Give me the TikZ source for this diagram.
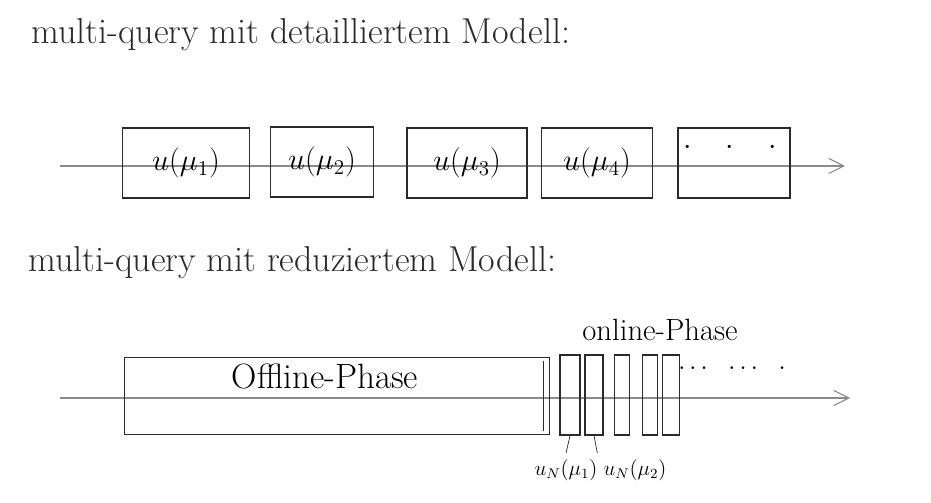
\documentclass[tikz,border=0pt]{standalone}
\usepackage{amsmath, amssymb}
\usepackage{tikz}
\usetikzlibrary{arrows.meta, positioning, calc}
\usepackage{xcolor}
\definecolor{pencil}{HTML}{2A2A2A}
\definecolor{axisgray}{HTML}{8A8A8A}

\begin{document}
\begin{tikzpicture}[
    x=0.02cm, y=-0.02cm,
    font=\LARGE,
    slot/.style={draw=pencil, thick, minimum width=#1, minimum height=1.4cm,
                 inner sep=0pt, align=center},
    onl/.style={draw=pencil, thick, minimum width=#1, minimum height=1.6cm, inner sep=0pt},
    timeline/.style={axisgray, semithick, -{Straight Barb[length=3mm, width=3mm]}},
    heading/.style={anchor=base west, font=\fontsize{20.5}{24}\selectfont, text=pencil},
  ]
    \useasboundingbox (0,0) rectangle (931,503);

    % detailliertes Modell
    \node[heading] (h1) at (25,44) {multi-query mit detailliertem Modell:};
    \coordinate (t1a) at (60,166);
    \coordinate (t1b) at (845,166);
    \draw[timeline] (t1a) -- (t1b);
    \node[slot=2.54cm] (u1) at (186,163) {$u(\mu_1)$};
    \node[slot=2.06cm] (u2) at (322,162) {$u(\mu_2)$};
    \node[slot=2.40cm] (u3) at (467,163) {$u(\mu_3)$};
    \node[slot=2.22cm] (u4) at (597,163) {$u(\mu_4)$};
    \node[slot=2.24cm] (u5) at (734,163) {};
    \node (u5dots) at (730,148) {$\cdot\ \ \ \cdot\ \ \ \cdot$};

    % reduziertes Modell
    \node[heading] (h2) at (22,272) {multi-query mit reduziertem Modell:};
    \coordinate (t2a) at (60,398);
    \coordinate (t2b) at (850,398);
    \draw[timeline] (t2a) -- (t2b);
    \node[draw=pencil, thick, minimum width=8.5cm, minimum height=1.54cm] (off) at (337,396) {};
    \draw[pencil, thin] ($(off.north east)+(-7,4)$) -- ($(off.south east)+(-7,-4)$);
    \node[font=\fontsize{20}{24}\selectfont] (offlab) at (325,376) {Offline-Phase};
    \foreach \cx/\w [count=\i] in {570/0.40cm, 594/0.36cm, 622/0.30cm, 650/0.30cm, 671/0.34cm}
      \node[onl=\w] (o\i) at (\cx,395) {};
    \node[font=\fontsize{17.5}{20}\selectfont] (onlab) at (660,330) {online-Phase};
    \node[font=\Large] (odots) at (732,369) {$\cdots\ \ \cdots\ \ \cdot$};
    \node[font=\large] (n1) at (566,470) {$u_N(\mu_1)$};
    \node[font=\large] (n2) at (635,470) {$u_N(\mu_2)$};
    \draw[pencil] (n1.north) -- (o1.south);
    \draw[pencil] (n2.north west) -- (o2.south);
\end{tikzpicture}
\end{document}
